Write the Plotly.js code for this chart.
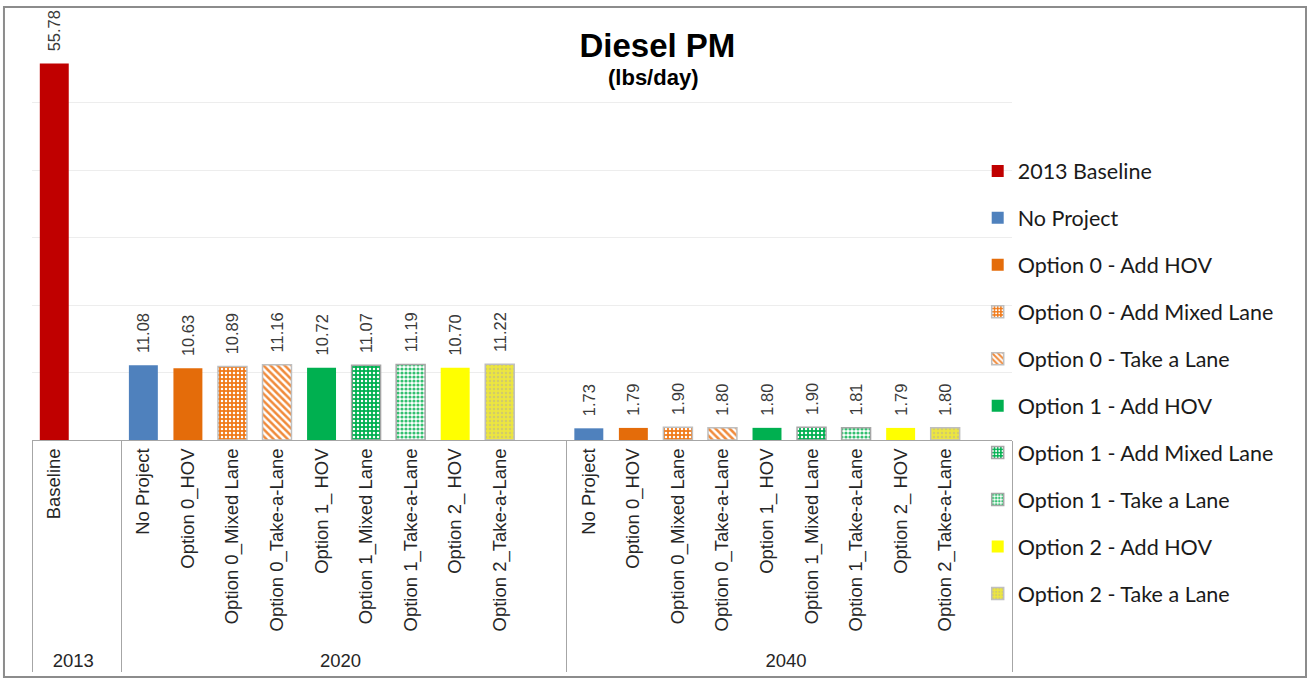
<!DOCTYPE html>
<html>
<head>
<meta charset="utf-8">
<script src="https://cdn.plot.ly/plotly-3.0.1.min.js"></script>
<style>
  html, body { margin: 0; padding: 0; background: #ffffff; }
  #chart { width: 1307px; height: 678px; }
</style>
</head>
<body>
<div id="chart"></div>
<script>
// Diesel PM emissions (lbs/day) by year and project scenario

const years = ["2013", "2020", "2040"];
const baselineLabel = "Baseline";
const scenarioLabels = [
  "No Project", "Option 0_HOV", "Option 0_Mixed Lane", "Option 0_Take-a-Lane",
  "Option 1_ HOV", "Option 1_Mixed Lane", "Option 1_Take-a-Lane",
  "Option 2_ HOV", "Option 2_Take-a-Lane"
];
// empty slot that closes each year group on the axis
const gap2013 = " ";
const gapLater = "\u00a0\u00a0";

const seriesNames = [
  "2013 Baseline", "No Project", "Option 0 - Add HOV", "Option 0 - Add Mixed Lane",
  "Option 0 - Take a Lane", "Option 1 - Add HOV", "Option 1 - Add Mixed Lane",
  "Option 1 - Take a Lane", "Option 2 - Add HOV", "Option 2 - Take a Lane"
];

const baseline2013 = [55.78];
const values2020 = [11.08, 10.63, 10.89, 11.16, 10.72, 11.07, 11.19, 10.70, 11.22];
const values2040 = [1.73, 1.79, 1.90, 1.80, 1.80, 1.90, 1.81, 1.79, 1.80];

// fill styles per series
const seriesStyles = [
  { color: "#C00000" },
  { color: "#4F81BD" },
  { color: "#E46C0A" },
  { color: "#F07A1A", line: "#BFBFBF",
    pattern: { shape: ".", fgcolor: "#FFFFFF", bgcolor: "#F07A1A", size: 4, solidity: 0.3, fillmode: "replace" } },
  { color: "#F08A3A", line: "#BFBFBF",
    pattern: { shape: "\\", fgcolor: "#F08A3A", bgcolor: "#FFFFFF", size: 5, solidity: 0.5, fillmode: "replace" } },
  { color: "#00B050" },
  { color: "#00B050", line: "#A6A6A6",
    pattern: { shape: ".", fgcolor: "#FFFFFF", bgcolor: "#00B050", size: 4, solidity: 0.3, fillmode: "replace" } },
  { color: "#7FD8A7", line: "#A6A6A6",
    pattern: { shape: ".", fgcolor: "#33C070", bgcolor: "#FFFFFF", size: 4, solidity: 0.5, fillmode: "replace" } },
  { color: "#FFFF00" },
  { color: "#E8E23E", line: "#BFBFBF",
    pattern: { shape: ".", fgcolor: "#D2CB6A", bgcolor: "#ECE640", size: 4, solidity: 0.3, fillmode: "replace" } }
];

const labelFont = "Liberation Sans, Arial, sans-serif";

// fixes the order of the axis slots: 2013 (Baseline + gap), 2020 and 2040 (9 scenarios + gap)
const slotOuter = [years[0], years[0]];
const slotInner = [baselineLabel, gap2013];
[years[1], years[2]].forEach(function (yr) {
  scenarioLabels.forEach(function (lab) { slotOuter.push(yr); slotInner.push(lab); });
  slotOuter.push(yr); slotInner.push(gapLater);
});

const traces = [{
  type: "bar",
  x: [slotOuter, slotInner],
  y: slotOuter.map(function () { return null; }),
  showlegend: false,
  hoverinfo: "skip"
}];

function makeTrace(i, outer, inner, values) {
  const st = seriesStyles[i];
  const marker = { color: st.color, line: { color: st.line || st.color, width: st.line ? 1.5 : 0 } };
  if (st.pattern) marker.pattern = st.pattern;
  return {
    type: "bar",
    name: seriesNames[i],
    legendgroup: seriesNames[i],
    x: [outer, inner],
    y: values,
    marker: marker,
    texttemplate: "\u00a0\u00a0%{y:.2f}",
    textposition: "outside",
    textangle: -90,
    constraintext: "none",
    cliponaxis: false,
    textfont: { family: labelFont, size: 16.5, color: "#3A3A3A" },
    hoverinfo: "skip"
  };
}

traces.push(makeTrace(0, [years[0]], [baselineLabel], baseline2013));
scenarioLabels.forEach(function (lab, k) {
  traces.push(makeTrace(k + 1, [years[1], years[2]], [lab, lab], [values2020[k], values2040[k]]));
});

const layout = {
  width: 1307,
  height: 678,
  margin: { l: 32, r: 295, t: 35, b: 238, pad: 0 },
  paper_bgcolor: "#FFFFFF",
  plot_bgcolor: "#FFFFFF",
  barmode: "overlay",
  bargap: 0.35,
  font: { family: labelFont, color: "#262626" },
  title: {
    text: "<b>Diesel PM</b>",
    font: { family: labelFont, size: 33, color: "#000000" },
    x: 0.503, xref: "container", xanchor: "center",
    y: 0.950, yref: "container", yanchor: "top"
  },
  annotations: [{
    text: "<b>(lbs/day)</b>",
    xref: "paper", yref: "paper",
    x: 0.634, y: 0.894, xanchor: "center", yanchor: "middle",
    showarrow: false,
    font: { family: labelFont, size: 22, color: "#000000" }
  }],
  xaxis: {
    type: "multicategory",
    tickangle: -90,
    tickfont: { family: labelFont, size: 18.5, color: "#262626" },
    ticks: "",
    showline: true,
    linecolor: "#A6A6A6",
    linewidth: 1,
    showgrid: false,
    showdividers: true,
    dividercolor: "#A6A6A6",
    dividerwidth: 1,
    automargin: false,
    fixedrange: true
  },
  yaxis: {
    range: [0, 60],
    dtick: 10,
    showticklabels: false,
    showgrid: true,
    gridcolor: "#EDEDED",
    gridwidth: 1,
    zeroline: false,
    showline: false,
    automargin: false,
    fixedrange: true
  },
  showlegend: true,
  legend: {
    x: 0.965, xanchor: "left",
    y: 0.715, yanchor: "top",
    traceorder: "grouped",
    tracegroupgap: 16,
    itemwidth: 30,
    maxheight: 560,
    font: { family: "Lato, Open Sans, sans-serif", size: 21.5, color: "#1A1A1A" },
    bgcolor: "rgba(0,0,0,0)"
  },
  shapes: [{
    type: "rect", xref: "paper", yref: "paper",
    x0: -0.0286, x1: 1.3, y0: -0.585, y1: 1.069,
    line: { color: "#8C8C8C", width: 2 },
    fillcolor: "rgba(0,0,0,0)",
    layer: "below"
  }]
};

Plotly.newPlot("chart", traces, layout, { displayModeBar: false, staticPlot: true });
</script>
</body>
</html>
